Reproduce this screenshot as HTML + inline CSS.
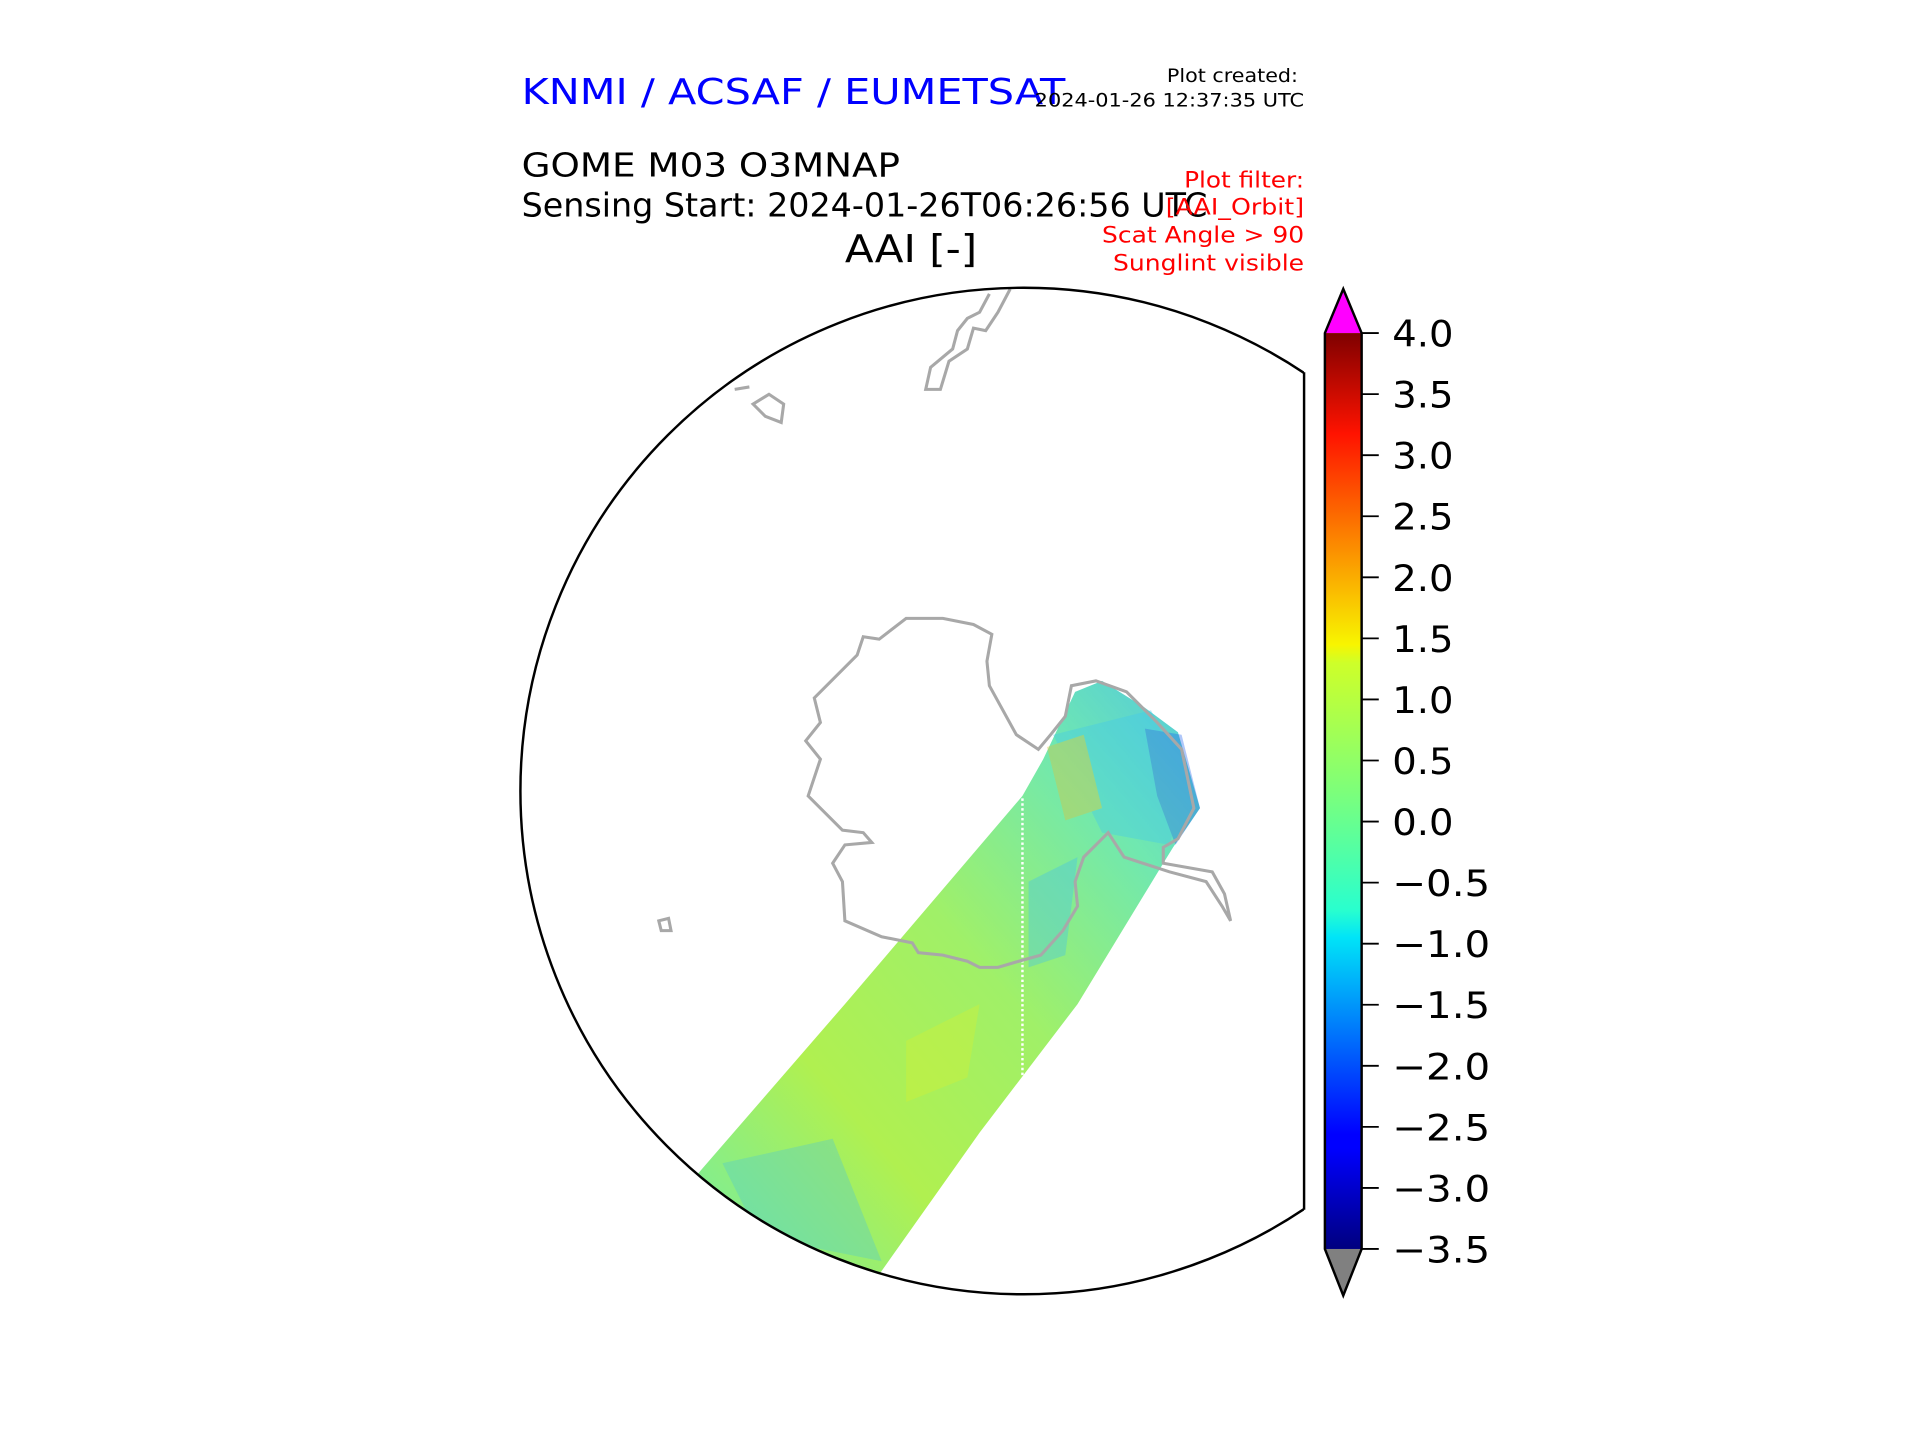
<!DOCTYPE html>
<html><head><meta charset="utf-8"><style>html,body{margin:0;padding:0;background:#fff}svg{display:block}</style></head>
<body>
<svg id="fig" width="1920" height="1440" viewBox="0 0 1568 1176" xmlns="http://www.w3.org/2000/svg" font-family="'DejaVu Sans','Liberation Sans',sans-serif">
<defs>
<clipPath id="mapclip"><path d="M1065,0 L1065,1176 L0,1176 L0,0 Z"/></clipPath>
<clipPath id="circclip"><circle cx="836" cy="646" r="411"/></clipPath>
<linearGradient id="jet" x1="0" y1="1" x2="0" y2="0">
<stop offset="0" stop-color="#00007f"/><stop offset="0.11" stop-color="#0000ff"/><stop offset="0.125" stop-color="#0000ff"/>
<stop offset="0.34" stop-color="#00e4f8"/><stop offset="0.37" stop-color="#29ffce"/><stop offset="0.5" stop-color="#7dff7a"/>
<stop offset="0.64" stop-color="#ceff29"/><stop offset="0.66" stop-color="#f8f500"/><stop offset="0.89" stop-color="#ff1300"/>
<stop offset="1" stop-color="#7f0000"/></linearGradient>
<linearGradient id="swath" x1="0" y1="1" x2="1" y2="0">
<stop offset="0" stop-color="#70eca8"/><stop offset="0.3" stop-color="#b0f050"/><stop offset="0.55" stop-color="#a0f068"/><stop offset="0.8" stop-color="#70e8b0"/><stop offset="1" stop-color="#50c8e0"/></linearGradient>
</defs>

<text x="426" y="85" font-size="29" fill="#0000ff" textLength="444" lengthAdjust="spacingAndGlyphs">KNMI / ACSAF / EUMETSAT</text>
<text x="1060" y="67" font-size="15" text-anchor="end" textLength="107" lengthAdjust="spacingAndGlyphs">Plot created:</text>
<text x="1065" y="87" font-size="15" text-anchor="end" textLength="220" lengthAdjust="spacingAndGlyphs">2024-01-26 12:37:35 UTC</text>
<text x="426" y="144" font-size="27" textLength="309" lengthAdjust="spacingAndGlyphs">GOME M03 O3MNAP</text>
<text x="426" y="177" font-size="27" textLength="560" lengthAdjust="spacingAndGlyphs">Sensing Start: 2024-01-26T06:26:56 UTC</text>
<text x="744" y="214" font-size="31" text-anchor="middle" textLength="108" lengthAdjust="spacingAndGlyphs">AAI [-]</text>
<g fill="#ff0000" font-size="18" text-anchor="end">
<text x="1065" y="153" textLength="98" lengthAdjust="spacingAndGlyphs">Plot filter:</text><text x="1065" y="175" textLength="113" lengthAdjust="spacingAndGlyphs">[AAI_Orbit]</text>
<text x="1065" y="198" textLength="165" lengthAdjust="spacingAndGlyphs">Scat Angle &gt; 90</text><text x="1065" y="221" textLength="156" lengthAdjust="spacingAndGlyphs">Sunglint visible</text></g>

<g clip-path="url(#mapclip)">
<g clip-path="url(#circclip)">
<path fill="url(#swath)" d="M560,970 L690,820 L835,650 L852,620 L878,565 L900,556 L935,578 L962,598 L980,660 L958,692 L950,705 L880,820 L800,925 L715,1045 L600,1045 Z"/>
<g opacity="0.35">
<path d="M860,600 L940,580 L970,640 L955,690 L900,680 Z" fill="#40c8f0"/>
<path d="M935,595 L965,600 L980,660 L960,690 L945,650 Z" fill="#2060f0"/>
<path d="M855,610 L885,600 L900,660 L870,670 Z" fill="#e8c030"/>
<path d="M840,720 L880,700 L870,780 L840,790 Z" fill="#40c0f0"/>
<path d="M590,950 L680,930 L720,1030 L620,1010 Z" fill="#50c8d0"/>
<path d="M740,850 L800,820 L790,880 L740,900 Z" fill="#d8f030"/>
</g>
<line x1="835" y1="652" x2="835" y2="880" stroke="#fff" stroke-width="2" stroke-dasharray="2,2"/>
</g>
<g fill="none" stroke="#a8a8a8" stroke-width="2.5">
<path d="M705,520 L718,522 L740,505 L770,505 L795,510 L810,518 L806,540 L808,560 L830,600 L848,612 L858,600 L870,585 L875,560 L895,556 L920,565 L935,580 L945,590 L965,612 L975,660 L962,685 L950,692 L950,705 L990,712 L1000,730 L1005,752 L998,740 L985,720 L955,712 L918,700 L905,680 L895,690 L885,700 L878,720 L880,740 L868,760 L850,780 L832,785 L815,790 L800,790 L790,785 L770,780 L750,778 L745,770 L720,765 L690,752 L688,720 L680,705 L690,690 L712,688 L705,680 L688,678 L670,660 L660,650 L670,620 L658,605 L670,590 L665,570 L680,555 L690,545 L700,535 Z"/>
<path d="M825,236 L815,255 L805,270 L795,268 L790,285 L775,295 L768,318 L756,318 L760,300 L778,285 L782,270 L790,260 L800,255 L808,240"/>
<path d="M615,330 L628,322 L640,330 L638,345 L625,340 Z"/>
<path d="M538,752 L546,750 L548,760 L540,760 Z"/>
<path d="M600,318 L612,316"/>
</g>
<circle cx="836" cy="646" r="411" fill="none" stroke="#000" stroke-width="2"/>
</g>
<line x1="1065" y1="304" x2="1065" y2="988" stroke="#000" stroke-width="2"/>

<g id="cbar"></g>

<script>
const tickValues = [4.0, 3.5, 3.0, 2.5, 2.0, 1.5, 1.0, 0.5, 0.0, -0.5, -1.0, -1.5, -2.0, -2.5, -3.0, -3.5];
const tickLabels = ["4.0","3.5","3.0","2.5","2.0","1.5","1.0","0.5","0.0","\u22120.5","\u22121.0","\u22121.5","\u22122.0","\u22122.5","\u22123.0","\u22123.5"];
const vmin = -3.5, vmax = 4.0;
(function(){
  const NS = "http://www.w3.org/2000/svg";
  const g = document.getElementById('cbar');
  const x0 = 1082, x1 = 1112, yTop = 272, yBot = 1020;
  const yScale = v => yBot - (v - vmin) / (vmax - vmin) * (yBot - yTop);
  function mk(tag, attrs){ const e = document.createElementNS(NS, tag); for (const k in attrs) e.setAttribute(k, attrs[k]); g.appendChild(e); return e; }
  const r = mk('rect', {x:x0, y:yTop, width:x1-x0, height:yBot-yTop, fill:'url(#jet)'});
  
  
  const up = mk('path', {d:`M${x0},${yTop} L${(x0+x1)/2},236 L${x1},${yTop} Z`, fill:'#ff00ff'});
  
  
  const dn = mk('path', {d:`M${x0},${yBot} L${(x0+x1)/2},1058 L${x1},${yBot} Z`, fill:'#808080'});
  
  
  const o = mk('path', {d:`M${x0},${yTop} L${(x0+x1)/2},236 L${x1},${yTop} L${x1},${yBot} L${(x0+x1)/2},1058 L${x0},${yBot} Z`, fill:'none', stroke:'#000', 'stroke-width':2});
  
  
  tickValues.forEach((v, i) => {
    const y = yScale(v);
    const t = mk('line', {x1:x1, x2:x1+14, y1:y, y2:y, stroke:'#000', 'stroke-width':1.5});
    
    
    const neg = tickLabels[i].length > 3;
    const lab = mk('text', {x:1137, y:y+11, 'font-size':30, textLength: neg ? 80 : 50, lengthAdjust:'spacingAndGlyphs'});
    lab.textContent = tickLabels[i];
    
    
  });
})();
</script>
</svg>
</body></html>
